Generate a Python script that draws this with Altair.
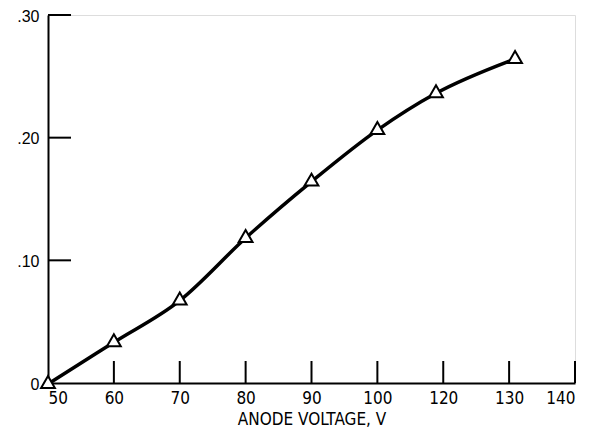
import altair as alt
import pandas as pd

# Data (x in axis-position units; axis labels map below)
x_pos = [50, 60, 70, 80, 90, 100, 108.9, 120.9]
y_val = [0.0, 0.034, 0.068, 0.119, 0.165, 0.207, 0.237, 0.265]

x_tick_pos = [50, 60, 70, 80, 90, 100, 110, 120, 130]
x_tick_labels = ["50", "60", "70", "80", "90", "100", "120", "130", "140"]
y_ticks = [0.0, 0.10, 0.20, 0.30]

df = pd.DataFrame({"x": x_pos, "y": y_val})
xt = pd.DataFrame({"x": x_tick_pos[1:]})
yt = pd.DataFrame({"y": y_ticks[1:]})

W, H = 527, 368
xscale = alt.Scale(domain=[50, 130], nice=False, zero=False)
yscale = alt.Scale(domain=[0, 0.30], nice=False)

label_arr = "[" + ",".join("'%s'" % s for s in x_tick_labels) + "]"
NARROW = "DejaVu Sans Condensed, Liberation Sans Narrow, Roboto Condensed, DejaVu Sans"

xaxis = alt.Axis(
    values=x_tick_pos, labelExpr=label_arr + "[round((datum.value-50)/10)]",
    title="ANODE VOLTAGE, V", grid=False, ticks=False,
    domainColor="black", domainWidth=2,
    labelFont=NARROW, labelFontSize=17, labelColor="black",
    labelPadding=7, titleFont=NARROW, titleFontSize=17,
    titleFontWeight="normal", titleColor="black", titlePadding=5,
)
yaxis = alt.Axis(
    values=y_ticks,
    labelExpr="datum.value == 0 ? '0' : slice(format(datum.value, '.2f'), 1)",
    title=None, grid=False, ticks=False,
    domainColor="black", domainWidth=2,
    labelFont="Liberation Sans", labelFontSize=16, labelColor="black",
    labelPadding=9, labelOffset=1,
)

line = alt.Chart(df).mark_line(
    color="black", strokeWidth=3.5, interpolate="monotone", yOffset=1
).encode(
    x=alt.X("x:Q", scale=xscale, axis=xaxis),
    y=alt.Y("y:Q", scale=yscale, axis=yaxis),
)

pts = alt.Chart(df).mark_point(
    shape="triangle-up", size=190, filled=True, fill="white",
    stroke="black", strokeWidth=2, opacity=1, yOffset=-1
).encode(x=alt.X("x:Q", scale=xscale), y=alt.Y("y:Q", scale=yscale))

xticks = alt.Chart(xt).mark_rule(color="black", strokeWidth=2).encode(
    x=alt.X("x:Q", scale=xscale),
    y=alt.value(H), y2=alt.value(H - 22),
)
yticks = alt.Chart(yt).mark_rule(color="black", strokeWidth=2).encode(
    y=alt.Y("y:Q", scale=yscale),
    x=alt.value(0), x2=alt.value(23),
)

chart = alt.layer(xticks, yticks, line, pts).properties(
    width=W, height=H,
    autosize=alt.AutoSizeParams(type="none"),
    padding={"left": 40, "top": 7, "right": 13, "bottom": 48},
).configure_view(stroke=None).configure(background="white")

chart.save("out.html", embed_options={"renderer": "svg", "actions": False})
